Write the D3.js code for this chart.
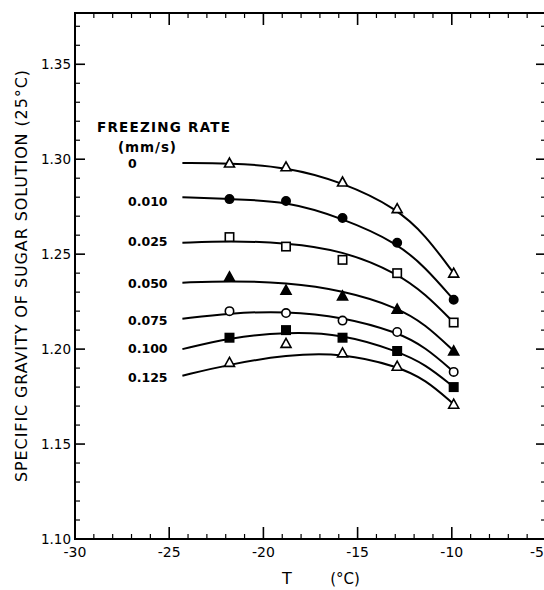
<!DOCTYPE html>
<html lang="en">
<head>
    <meta charset="UTF-8">
    <title>Specific gravity vs T</title>
    <script src="https://d3js.org/d3.v7.min.js"></script>
    <style>
        body { margin: 0; background: white; }
        svg { display: block; }
        text { font-family: "DejaVu Sans", Arial, sans-serif; fill: black; }
    </style>
</head>
<body>
    <svg width="544" height="590" id="chart"></svg>
    <script>
        // measured points, x in deg C
        const pointT = [-21.8, -18.8, -15.8, -12.9, -9.9];
        const rates = ["0", "0.010", "0.025", "0.050", "0.075", "0.100", "0.125"];
        const markers = ["triOpen", "circFill", "sqOpen", "triFill", "circOpen", "sqFill", "triOpen"];
        const pointVals = [
            [1.298, 1.296, 1.288, 1.274, 1.240],
            [1.279, 1.278, 1.269, 1.256, 1.226],
            [1.259, 1.254, 1.247, 1.240, 1.214],
            [1.238, 1.231, 1.228, 1.221, 1.199],
            [1.220, 1.219, 1.215, 1.209, 1.188],
            [1.206, 1.210, 1.206, 1.199, 1.180],
            [1.193, 1.203, 1.198, 1.191, 1.171]
        ];

        // fitted curves
        const curveT = [-24.3, -21.8, -18.8, -15.8, -12.9, -11.4, -9.9];
        const curveVals = [
            [1.298, 1.298, 1.296, 1.288, 1.274, 1.260, 1.240],
            [1.280, 1.279, 1.278, 1.269, 1.256, 1.243, 1.226],
            [1.256, 1.257, 1.256, 1.252, 1.240, 1.229, 1.214],
            [1.235, 1.236, 1.235, 1.231, 1.222, 1.213, 1.199],
            [1.216, 1.219, 1.220, 1.217, 1.209, 1.201, 1.188],
            [1.200, 1.206, 1.209, 1.208, 1.199, 1.192, 1.180],
            [1.186, 1.192, 1.197, 1.198, 1.191, 1.184, 1.171]
        ];

        const xTicks = [-30, -25, -20, -15, -10, -5];
        const yTicks = [1.10, 1.15, 1.20, 1.25, 1.30, 1.35];

        const svg = d3.select("#chart");
        const x = d3.scaleLinear().domain([-30, -5]).range([75, 546]);
        const y = d3.scaleLinear().domain([1.10, 1.377]).range([539, 13]);

        // frame + ticks
        const frame = svg.append("g");
        frame.append("rect")
            .attr("x", x(-30)).attr("y", y(1.377))
            .attr("width", x(-5) - x(-30)).attr("height", y(1.10) - y(1.377))
            .attr("fill", "none").attr("stroke", "black").attr("stroke-width", 2);

        const minorX = d3.range(-29, -5, 1);
        minorX.forEach(t => {
            const major = t % 5 === 0;
            const len = major ? 12 : 5;
            frame.append("line").attr("x1", x(t)).attr("x2", x(t))
                .attr("y1", y(1.10)).attr("y2", y(1.10) - len)
                .attr("stroke", "black").attr("stroke-width", major ? 1.6 : 1.2);
            frame.append("line").attr("x1", x(t)).attr("x2", x(t))
                .attr("y1", y(1.377)).attr("y2", y(1.377) + len)
                .attr("stroke", "black").attr("stroke-width", major ? 1.6 : 1.2);
        });

        const minorY = d3.range(111, 138, 1).map(d => d / 100);
        minorY.forEach(v => {
            const major = Math.round(v * 100) % 5 === 0;
            const len = major ? 10 : 5;
            frame.append("line").attr("x1", x(-30)).attr("x2", x(-30) + len)
                .attr("y1", y(v)).attr("y2", y(v))
                .attr("stroke", "black").attr("stroke-width", major ? 1.6 : 1.2);
            frame.append("line").attr("x1", x(-5)).attr("x2", x(-5) - len)
                .attr("y1", y(v)).attr("y2", y(v))
                .attr("stroke", "black").attr("stroke-width", major ? 1.6 : 1.2);
        });

        // tick labels
        svg.selectAll(".xl").data(xTicks).enter().append("text")
            .attr("x", d => d === -5 ? 544 : x(d))
            .attr("y", 557)
            .attr("text-anchor", d => d === -5 ? "end" : "middle")
            .attr("font-size", 14)
            .text(d => d === -30 ? "-30" : "-" + Math.abs(d));

        svg.selectAll(".yl").data(yTicks).enter().append("text")
            .attr("x", 71).attr("y", d => y(d) + 5)
            .attr("text-anchor", "end").attr("font-size", 13.5)
            .text(d => d.toFixed(2));

        // axis titles
        svg.append("text").attr("x", 287).attr("y", 584)
            .attr("text-anchor", "middle").attr("font-size", 16).text("T");
        svg.append("text").attr("x", 345).attr("y", 584)
            .attr("text-anchor", "middle").attr("font-size", 15).text("(°C)");

        svg.append("text")
            .attr("transform", "translate(27,276) rotate(-90)")
            .attr("text-anchor", "middle").attr("font-size", 16)
            .attr("textLength", 412).attr("lengthAdjust", "spacing")
            .text("SPECIFIC  GRAVITY OF  SUGAR  SOLUTION (25°C)");

        // curves (smooth fit through the read-off points)
        const line = d3.line()
            .x(d => x(d[0])).y(d => y(d[1]))
            .curve(d3.curveBasis);

        curveVals.forEach(vals => {
            svg.append("path")
                .datum(curveT.map((t, i) => [t, vals[i]]))
                .attr("d", line)
                .attr("fill", "none").attr("stroke", "black").attr("stroke-width", 2);
        });

        // markers
        function drawMarker(kind, cx, cy) {
            const filled = kind.endsWith("Fill");
            const fill = filled ? "black" : "white";
            if (kind.startsWith("tri")) {
                const s = 5;
                svg.append("path")
                    .attr("d", `M${cx},${cy - s} L${cx + s},${cy + s * 0.8} L${cx - s},${cy + s * 0.8} Z`)
                    .attr("fill", fill).attr("stroke", "black").attr("stroke-width", 1.6);
            } else if (kind.startsWith("circ")) {
                svg.append("circle").attr("cx", cx).attr("cy", cy).attr("r", 4.2)
                    .attr("fill", fill).attr("stroke", "black").attr("stroke-width", 1.6);
            } else {
                svg.append("rect").attr("x", cx - 4.2).attr("y", cy - 4.2)
                    .attr("width", 8.4).attr("height", 8.4)
                    .attr("fill", fill).attr("stroke", "black").attr("stroke-width", 1.6);
            }
        }

        pointVals.forEach((vals, s) => {
            vals.forEach((v, i) => drawMarker(markers[s], x(pointT[i]), y(v)));
        });

        // legend text
        svg.append("text").attr("x", 97).attr("y", 132).attr("font-size", 13.5)
            .attr("font-weight", "bold")
            .attr("textLength", 133).attr("lengthAdjust", "spacing")
            .text("FREEZING RATE");
        svg.append("text").attr("x", 118).attr("y", 152).attr("font-size", 13.5)
            .attr("font-weight", "bold")
            .attr("textLength", 58).attr("lengthAdjust", "spacing")
            .text("(mm/s)");
        const labelY = [168, 206, 246, 288, 325, 353, 382];
        rates.forEach((r, i) => {
            svg.append("text").attr("x", 128).attr("y", labelY[i])
                .attr("font-size", 12.5).attr("font-weight", "bold").text(r);
        });
    </script>
</body>
</html>
